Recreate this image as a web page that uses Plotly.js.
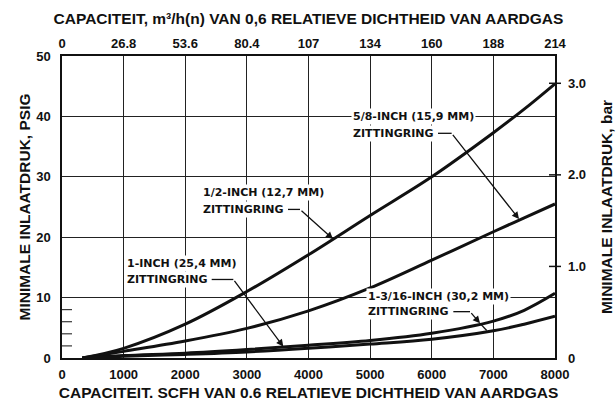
<!DOCTYPE html>
<html>
<head>
<meta charset="utf-8">
<script src="https://cdn.plot.ly/plotly-3.0.1.min.js"></script>
<style>html,body{margin:0;padding:0;background:#fff;}#chart{width:616px;height:403px;}</style>
</head>
<body>
<div id="chart"></div>
<script>
// ---- data ----
const capacityScfh = [330, 1000, 2000, 3000, 4000, 5000, 6000, 7000, 7500, 8000];
const seatHalfInch = [0, 1.6, 5.6, 11.0, 17.1, 23.6, 30.0, 37.3, 41.2, 45.4];
const seatFiveEighthInch = [0, 1.1, 2.8, 4.9, 7.8, 11.6, 16.2, 20.9, 23.2, 25.5];
const seatOneInch = [0, 0.4, 0.8, 1.4, 2.1, 2.9, 4.1, 6.1, 7.9, 10.7];
const seatOneThreeSixteenthInch = [0, 0.3, 0.6, 1.0, 1.6, 2.3, 3.1, 4.5, 5.6, 6.9];

const capacityTicks = [0, 1000, 2000, 3000, 4000, 5000, 6000, 7000, 8000];
const capacityM3Labels = ['0', '26.8', '53.6', '80.4', '107', '134', '160', '188', '214'];
const psigTicks = [0, 10, 20, 30, 40, 50];
const psigMinorTicks = [2, 4, 6, 8];
const barTicks = [0, 1, 2, 3];
const barTickText = ['0', '1.0', '2.0', '3.0'];
const barRangeMax = 3.298; // 3.0 bar sits at ~45.5 psig on the reference

const titleFont = {family: 'Liberation Sans, Arial, sans-serif', size: 15.5, color: '#111', weight: 'bold'};
const tickFont = {family: 'Liberation Sans, Arial, sans-serif', size: 13, color: '#111', weight: 'bold'};
const noteFont = {family: 'DejaVu Sans, sans-serif', size: 11, color: '#111', weight: 'bold'};
const ink = '#111';

function curve(y) {
  return {x: capacityScfh, y: y, type: 'scatter', mode: 'lines',
    line: {color: ink, width: 3, shape: 'spline', smoothing: 1.0},
    hoverinfo: 'skip', showlegend: false, xaxis: 'x', yaxis: 'y'};
}
const traces = [curve(seatHalfInch), curve(seatFiveEighthInch), curve(seatOneInch), curve(seatOneThreeSixteenthInch)];
// carrier trace so the top (m3/h) axis is drawn; it has no visible marks
traces.push({x: capacityTicks, y: capacityTicks.map(() => null), type: 'scatter', mode: 'lines',
  xaxis: 'x2', yaxis: 'y', hoverinfo: 'skip', showlegend: false});

function label(x, y, text) {
  return {x: x, y: y, xref: 'x', yref: 'y', text: text, showarrow: false,
    xanchor: 'left', yanchor: 'middle', align: 'left', font: noteFont,
    bgcolor: '#fff', borderpad: 1};
}
function arrow(x0, y0, x1, y1) {
  return {x: x1, y: y1, ax: x0, ay: y0, xref: 'x', yref: 'y', axref: 'x', ayref: 'y',
    text: '', showarrow: true, arrowhead: 2, arrowsize: 1.1, arrowwidth: 1.3, arrowcolor: ink, standoff: 0};
}
function seg(x0, y0, x1, y1) {
  return {type: 'line', xref: 'x', yref: 'y', x0: x0, y0: y0, x1: x1, y1: y1, line: {color: ink, width: 1.3}};
}

const annotations = [
  label(4685, 39.95, '5/8-INCH (15,9 MM)'),
  label(4685, 37.2, 'ZITTINGRING'),
  arrow(6323, 37.2, 7416, 23.0),
  label(2250, 27.4, '1/2-INCH (12,7 MM)'),
  label(2250, 24.6, 'ZITTINGRING'),
  arrow(3862, 24.6, 4397, 19.7),
  label(1030, 15.6, '1-INCH (25,4 MM)'),
  label(1030, 13.0, 'ZITTINGRING'),
  arrow(2780, 13.0, 3591, 1.9),
  label(4925, 10.15, '1-3/16-INCH (30,2 MM)'),
  label(4925, 7.67, 'ZITTINGRING'),
  arrow(6621, 7.67, 6783, 5.74)
];

const shapes = [
  seg(6101, 37.2, 6323, 37.2),
  seg(3667, 24.6, 3862, 24.6),
  seg(2429, 13.0, 2780, 13.0),
  seg(6350, 7.67, 6621, 7.67),
  seg(6783, 5.74, 6892, 4.55)
];
psigMinorTicks.forEach(v => shapes.push({type: 'line', xref: 'paper', yref: 'y', x0: 0, x1: 10/493, y0: v, y1: v, line: {color: ink, width: 1}}));
barTicks.slice(1).forEach(v => shapes.push({type: 'line', xref: 'paper', yref: 'y2', x0: 1 - 6/493, x1: 1 + 6/493, y0: v, y1: v, line: {color: ink, width: 1.5}}));

const layout = {
  width: 616, height: 403,
  margin: {l: 62, r: 61, t: 56, b: 45},
  paper_bgcolor: '#fff', plot_bgcolor: '#fff',
  showlegend: false,
  title: {text: 'CAPACITEIT, m³/h(n) VAN 0,6 RELATIEVE DICHTHEID VAN AARDGAS', font: titleFont,
    x: 0.5, xref: 'paper', xanchor: 'center', y: 0.955, yref: 'container', yanchor: 'middle'},
  xaxis: {range: [0, 8000], tickvals: capacityTicks, ticktext: capacityTicks.map(String),
    showgrid: true, gridcolor: '#222', gridwidth: 1.1, zeroline: false,
    showline: true, linecolor: ink, linewidth: 1.6, mirror: true, ticks: '',
    tickfont: tickFont, ticklabelstandoff: 4,
    title: {text: 'CAPACITEIT. SCFH VAN 0.6 RELATIEVE DICHTHEID VAN AARDGAS', font: titleFont, standoff: 6}},
  xaxis2: {range: [0, 8000], overlaying: 'x', side: 'top', anchor: 'y', tickvals: capacityTicks, ticktext: capacityM3Labels,
    showgrid: false, zeroline: false, showline: false, ticks: '', tickfont: tickFont, ticklabelstandoff: 4},
  yaxis: {range: [0, 50], tickvals: psigTicks, showgrid: true, gridcolor: '#222', gridwidth: 1.1, zeroline: false,
    showline: true, linecolor: ink, linewidth: 1.6, mirror: true, ticks: '',
    tickfont: tickFont, ticklabelstandoff: 7,
    title: {text: 'MINIMALE INLAATDRUK, PSIG', font: titleFont, standoff: 2}},
  yaxis2: {range: [0, barRangeMax], overlaying: 'y', side: 'right', anchor: 'x', tickvals: barTicks, ticktext: barTickText,
    showgrid: false, zeroline: false, showline: false, ticks: '', tickfont: tickFont, ticklabelstandoff: 12,
    title: {text: 'MINIMALE INLAATDRUK, bar', font: titleFont, standoff: 16}},
  annotations: annotations,
  shapes: shapes
};

Plotly.newPlot('chart', traces, layout, {displayModeBar: false, staticPlot: true});
</script>
</body>
</html>
